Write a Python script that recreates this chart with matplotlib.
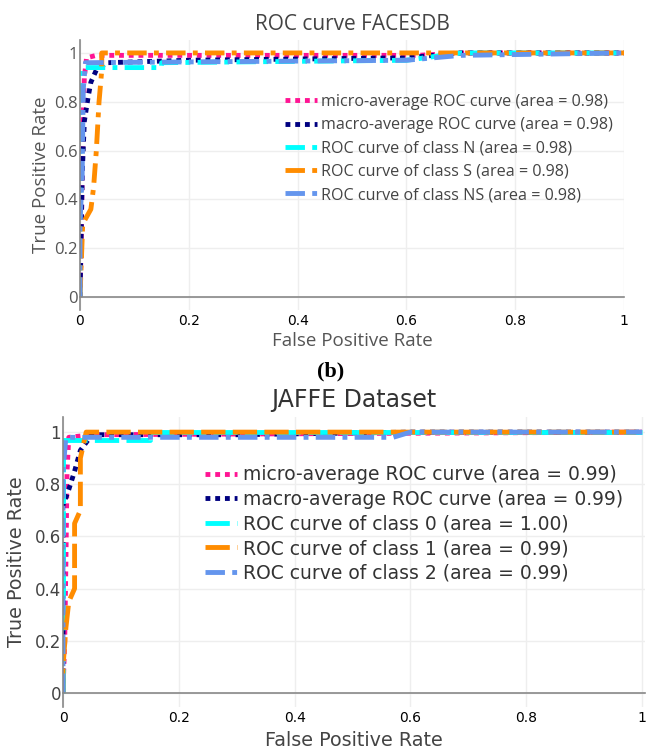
import matplotlib.pyplot as plt

# ------------------------------------------------------------------
# DATA
# ------------------------------------------------------------------

# (a) FACESDB
fdb_micro_fpr = [0.0, 0.002, 0.004, 0.006, 0.008, 0.012, 0.03, 0.3, 0.62, 0.7, 1.0]
fdb_micro_tpr = [0.0, 0.2, 0.5, 0.75, 0.9, 0.98, 0.99, 0.99, 0.99, 1.0, 1.0]

fdb_macro_fpr = [0.0, 0.004, 0.008, 0.015, 0.02, 0.03, 0.05, 0.2, 0.6, 0.7, 1.0]
fdb_macro_tpr = [0.0, 0.5, 0.72, 0.82, 0.88, 0.93, 0.96, 0.97, 0.98, 1.0, 1.0]

fdb_n_fpr = [0.0, 0.0, 0.01, 0.15, 0.15, 0.6, 0.7, 1.0]
fdb_n_tpr = [0.0, 0.93, 0.94, 0.94, 0.96, 0.97, 1.0, 1.0]

fdb_s_fpr = [0.0, 0.005, 0.02, 0.025, 0.03, 0.035, 0.04, 0.04, 1.0]
fdb_s_tpr = [0.0, 0.3, 0.36, 0.45, 0.6, 0.8, 0.93, 1.0, 1.0]

fdb_ns_fpr = [0.0, 0.0, 0.004, 0.006, 0.01, 0.6, 0.7, 1.0]
fdb_ns_tpr = [0.0, 0.3, 0.5, 0.85, 0.96, 0.97, 0.99, 1.0]

fdb_labels = [
    "micro-average ROC curve (area = 0.98)",
    "macro-average ROC curve (area = 0.98)",
    "ROC curve of class N (area = 0.98)",
    "ROC curve of class S (area = 0.98)",
    "ROC curve of class NS (area = 0.98)",
]

# (b) JAFFE
jaf_micro_fpr = [0.0, 0.003, 0.005, 0.007, 0.01, 0.05, 1.0]
jaf_micro_tpr = [0.0, 0.2, 0.5, 0.85, 0.98, 0.99, 1.0]

jaf_macro_fpr = [0.0, 0.0, 0.01, 0.02, 0.03, 0.05, 0.3, 0.6, 1.0]
jaf_macro_tpr = [0.0, 0.72, 0.78, 0.85, 0.93, 0.99, 0.99, 1.0, 1.0]

jaf_c0_fpr = [0.0, 0.0, 0.01, 0.15, 0.15, 1.0]
jaf_c0_tpr = [0.0, 0.97, 0.97, 0.97, 1.0, 1.0]

jaf_c1_fpr = [0.0, 0.0, 0.005, 0.01, 0.02, 0.02, 0.03, 0.03, 0.035, 0.04, 1.0]
jaf_c1_tpr = [0.0, 0.1, 0.25, 0.35, 0.4, 0.65, 0.7, 0.9, 0.95, 1.0, 1.0]

jaf_c2_fpr = [0.0, 0.0, 0.005, 0.57, 0.6, 1.0]
jaf_c2_tpr = [0.0, 0.85, 0.98, 0.98, 1.0, 1.0]

jaf_labels = [
    "micro-average ROC curve (area = 0.99)",
    "macro-average ROC curve (area = 0.99)",
    "ROC curve of class 0 (area = 1.00)",
    "ROC curve of class 1 (area = 0.99)",
    "ROC curve of class 2 (area = 0.99)",
]

ticks = [0, 0.2, 0.4, 0.6, 0.8, 1]
tick_labels = ["0", "0.2", "0.4", "0.6", "0.8", "1"]

# ------------------------------------------------------------------
# STYLE
# ------------------------------------------------------------------

DOT = (0, (1, 1))
DASHDOT = (0, (4, 1.5, 1, 1.5))
DASH = (0, (5, 1.5))
LW = 3.5


def style_axes(ax, font, tsize, lsize, color, xpad, ylabpad, xlabpad):
    ax.set_xticks(ticks)
    ax.set_yticks(ticks)
    ax.set_xticklabels(tick_labels, family=font, fontsize=tsize, color=color)
    ax.set_yticklabels(tick_labels, family=font, fontsize=tsize, color=color)
    ax.tick_params(axis="x", length=0, pad=xpad)
    ax.tick_params(axis="y", length=0, pad=1.5)
    ax.grid(color="#eeeeee", linewidth=1)
    ax.set_axisbelow(True)
    for s in ["top", "right"]:
        ax.spines[s].set_visible(False)
    for s in ["left", "bottom"]:
        ax.spines[s].set_color("#888888")
        ax.spines[s].set_linewidth(1.2)
    # x axis line sits on y = 0, like a zero line
    ax.spines["bottom"].set_position(("data", 0))
    ax.set_xlabel("False Positive Rate", family=font, fontsize=lsize,
                  color=color, labelpad=xlabpad)
    ax.set_ylabel("True Positive Rate", family=font, fontsize=lsize,
                  color=color, labelpad=ylabpad)


fig = plt.figure(figsize=(6.49, 7.55), dpi=100)

# ------------------------------------------------------------------
# TOP PANEL
# ------------------------------------------------------------------

ax1 = fig.add_axes([80 / 649, 1 - 310 / 755, 544 / 649, 270 / 755])

ax1.plot(fdb_micro_fpr, fdb_micro_tpr, color="deeppink", ls=DOT, lw=LW, label=fdb_labels[0])
ax1.plot(fdb_macro_fpr, fdb_macro_tpr, color="navy", ls=DOT, lw=LW, label=fdb_labels[1])
ax1.plot(fdb_n_fpr, fdb_n_tpr, color="aqua", ls=DASHDOT, lw=LW, label=fdb_labels[2])
ax1.plot(fdb_s_fpr, fdb_s_tpr, color="darkorange", ls=DASHDOT, lw=LW, label=fdb_labels[3])
ax1.plot(fdb_ns_fpr, fdb_ns_tpr, color="cornflowerblue", ls=DASHDOT, lw=LW, label=fdb_labels[4])

ax1.set_xlim(0, 1)
ax1.set_ylim(-0.053, 1.053)
style_axes(ax1, "Open Sans", 12, 13.5, "#555555", 12, 3, 3)
ax1.set_title("ROC curve FACESDB", family="Open Sans", fontsize=15,
              color="#444444", pad=7)

ax1.legend(
    loc="upper left",
    bbox_to_anchor=(0.377, 0.80),
    borderaxespad=0,
    borderpad=0,
    frameon=False,
    prop={"family": "Open Sans", "size": 11.6},
    handlelength=2.0,
    handletextpad=0.25,
    labelspacing=0.45,
    labelcolor="#444444",
)

# ------------------------------------------------------------------
# (b) label
# ------------------------------------------------------------------

fig.text(331 / 649, 1 - 371 / 755, "(b)", family="Liberation Serif",
         fontweight="bold", fontsize=16, ha="center", va="center")

# ------------------------------------------------------------------
# BOTTOM PANEL
# ------------------------------------------------------------------

ax2 = fig.add_axes([63 / 649, 1 - 707 / 755, 582 / 649, 290 / 755])

ax2.plot(jaf_micro_fpr, jaf_micro_tpr, color="deeppink", ls=DOT, lw=LW, label=jaf_labels[0])
ax2.plot(jaf_macro_fpr, jaf_macro_tpr, color="navy", ls=DOT, lw=LW, label=jaf_labels[1])
ax2.plot(jaf_c0_fpr, jaf_c0_tpr, color="aqua", ls=DASH, lw=LW, label=jaf_labels[2])
ax2.plot(jaf_c1_fpr, jaf_c1_tpr, color="darkorange", ls=DASH, lw=LW, label=jaf_labels[3])
ax2.plot(jaf_c2_fpr, jaf_c2_tpr, color="cornflowerblue", ls=DASHDOT, lw=LW, label=jaf_labels[4])

ax2.set_xlim(0, 1.005)
ax2.set_ylim(-0.054, 1.058)
style_axes(ax2, "DejaVu Sans", 12, 13.8, "#444444", 13, 6, 4)
ax2.set_title("JAFFE Dataset", family="DejaVu Sans", fontsize=17,
              color="#333333", pad=7)

ax2.legend(
    loc="upper left",
    bbox_to_anchor=(0.244, 0.834),
    borderaxespad=0,
    borderpad=0,
    frameon=False,
    prop={"family": "DejaVu Sans", "size": 13.5},
    handlelength=1.7,
    handletextpad=0.3,
    labelspacing=0.3,
    labelcolor="#333333",
)

fig.savefig("out.png", dpi=100)
